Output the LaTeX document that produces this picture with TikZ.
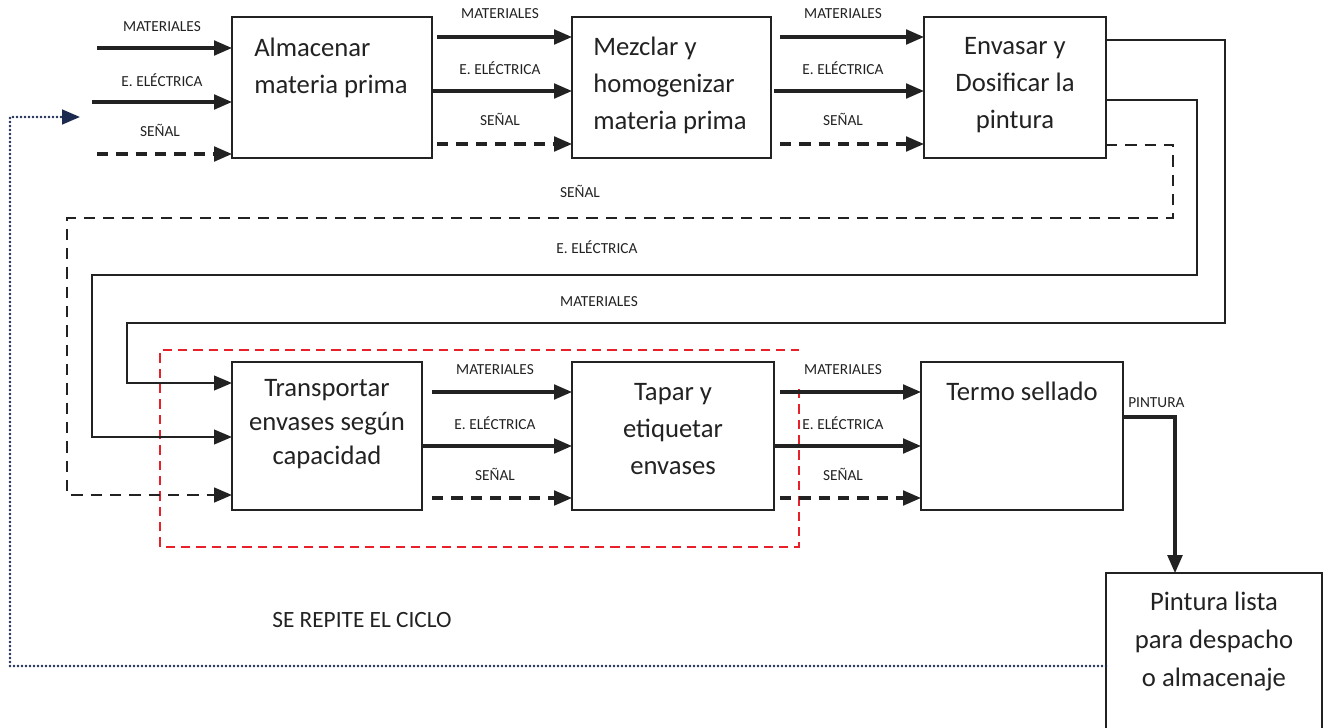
\documentclass[tikz,border=0pt]{standalone}
\usepackage{fontspec}
\setmainfont{Carlito}
\usetikzlibrary{arrows.meta,calc}
\definecolor{ink}{HTML}{222222}
\definecolor{cyclecol}{HTML}{1B2A4E}
\definecolor{groupred}{HTML}{E8202A}
\tikzset{
  proc/.style={draw=ink, line width=1.7pt, rectangle, inner sep=0pt, outer sep=0pt},
  boxtext/.style={text=ink, inner sep=0pt, font=\fontsize{20}{27.75}\selectfont},
  flowlabel/.style={text=ink, inner sep=0pt, font=\fontsize{11.5}{13}\selectfont},
  flow/.style={draw=ink, line width=2.4pt, -{Triangle[length=13.5pt,width=11pt]}},
  signal/.style={flow, dash pattern=on 8.5pt off 6pt},
  route/.style={draw=ink, line width=1.6pt, -{Triangle[length=13.5pt,width=11pt]}},
  routesig/.style={route, line width=2pt, dash pattern=on 8.5pt off 6pt},
  cycleline/.style={draw=cyclecol, line width=2pt, line cap=round, dash pattern=on 0pt off 3pt,
    -{Triangle[length=13.5pt,width=11pt,line cap=butt]}},
  groupframe/.style={draw=groupred, line width=1.8pt, dash pattern=on 7pt off 4.5pt}
}
\begin{document}
\begin{tikzpicture}[x=0.75pt,y=-0.75pt]
\useasboundingbox (0,0) rectangle (1329,728);

% process boxes
\node[proc, minimum width=150pt,   minimum height=105.75pt] (A) at (332,87.5) {};
\node[proc, minimum width=149.25pt, minimum height=105.75pt] (B) at (671.5,87.5) {};
\node[proc, minimum width=136.5pt, minimum height=105.75pt] (C) at (1015,87.5) {};
\node[proc, minimum width=142.5pt, minimum height=111pt] (D) at (327,436) {};
\node[proc, minimum width=151.5pt, minimum height=111pt] (E) at (673,436) {};
\node[proc, minimum width=151.5pt, minimum height=111pt] (F) at (1022,436) {};
\node[proc, minimum width=162pt,   minimum height=119pt] (G) at (1214,652.5) {};

% box captions
\node[boxtext, anchor=west, align=left] (tA) at (254,67.5) {Almacenar\\materia prima};
\node[boxtext, anchor=west, align=left] (tB) at (593,85) {Mezclar y\\homogenizar\\materia prima};
\node[boxtext, align=center] (tC) at (1015,85) {Envasar y\\Dosificar la\\pintura};
\node[boxtext, align=center, font=\fontsize{20}{25.5}\selectfont] (tD) at (327,424.5) {Transportar\\envases según\\capacidad};
\node[boxtext, align=center] (tE) at (673,429) {Tapar y\\etiquetar\\envases};
\node[boxtext] (tF) at (1022,391) {Termo sellado};
\node[boxtext, align=center, font=\fontsize{20}{28.5}\selectfont] (tG) at (1214,642) {Pintura lista\\para despacho\\o almacenaje};

% red frame around the transport / capping stages
\draw[groupframe] (799,389) -- (799,547) -- (160,547) -- (160,350) -- (799,350);

% inputs of the first stage
\coordinate (inM) at (97,48);
\coordinate (inE) at (92,102);
\coordinate (inS) at (97,154);
\draw[flow] (inM) -- (A.west |- inM);
\draw[flow] (inE) -- (A.west |- inE);
\draw[signal] (inS) -- (A.west |- inS);
\node[flowlabel] (lA1) at (162,27) {MATERIALES};
\node[flowlabel] (lA2) at (162,80) {E. ELÉCTRICA};
\node[flowlabel] (lA3) at (160,130) {SEÑAL};

% A -> B
\coordinate (rowM) at (0,37);
\coordinate (rowE) at (0,91);
\coordinate (rowS) at (0,144);
\draw[flow] ($(A.east |- rowM)+(5,0)$) -- (B.west |- rowM);
\draw[flow] (A.east |- rowE) -- (B.west |- rowE);
\draw[signal] ($(A.east |- rowS)+(5,0)$) -- (B.west |- rowS);
\node[flowlabel] (lB1) at (500,14) {MATERIALES};
\node[flowlabel] (lB2) at (500,68) {E. ELÉCTRICA};
\node[flowlabel] (lB3) at (500,119) {SEÑAL};

% B -> C
\draw[flow] ($(B.east |- rowM)+(9,0)$) -- (C.west |- rowM);
\draw[flow] ($(B.east |- rowE)+(3,0)$) -- (C.west |- rowE);
\draw[signal] ($(B.east |- rowS)+(9,0)$) -- (C.west |- rowS);
\node[flowlabel] (lC1) at (843,14) {MATERIALES};
\node[flowlabel] (lC2) at (843,68) {E. ELÉCTRICA};
\node[flowlabel] (lC3) at (843,119) {SEÑAL};

% return lines from C to D
\coordinate (cM1) at (1225,323);
\coordinate (cM2) at (127,383);
\coordinate (cE1) at (1197,275);
\coordinate (cE2) at (92,437);
\coordinate (cS1) at (1173,218);
\coordinate (cS2) at (67,495);
\draw[route] (C.east |- 0,40) -| (cM1) -| (cM2) -- (D.west |- cM2);
\draw[route] (C.east |- 0,100) -| (cE1) -| (cE2) -- (D.west |- cE2);
\draw[routesig] (C.east |- 0,145) -| (cS1) -| (cS2) -- (D.west |- cS2);
\node[flowlabel] (lR1) at (580,191) {SEÑAL};
\node[flowlabel] (lR2) at (597,247) {E. ELÉCTRICA};
\node[flowlabel] (lR3) at (599,302) {MATERIALES};

% D -> E
\coordinate (rowM2) at (0,392);
\coordinate (rowE2) at (0,446);
\coordinate (rowS2) at (0,498);
\draw[flow] ($(D.east |- rowM2)+(10,0)$) -- (E.west |- rowM2);
\draw[flow] (D.east |- rowE2) -- (E.west |- rowE2);
\draw[signal] ($(D.east |- rowS2)+(10,0)$) -- (E.west |- rowS2);
\node[flowlabel] (lE1) at (495,370) {MATERIALES};
\node[flowlabel] (lE2) at (495,423) {E. ELÉCTRICA};
\node[flowlabel] (lE3) at (495,474) {SEÑAL};

% E -> F
\draw[flow] ($(E.east |- rowM2)+(6,0)$) -- (F.west |- rowM2);
\draw[flow] (E.east |- rowE2) -- (F.west |- rowE2);
\draw[signal] ($(E.east |- rowS2)+(6,0)$) -- (F.west |- rowS2);
\node[flowlabel] (lF1) at (843,370) {MATERIALES};
\node[flowlabel] (lF2) at (843,423) {E. ELÉCTRICA};
\node[flowlabel] (lF3) at (843,474) {SEÑAL};

% finished product
\coordinate (pk) at (1175,417);
\draw[flow] (F.east |- pk) -- (pk) -- (pk |- G.north);
\node[flowlabel, anchor=west] (lP) at (1128,403) {PINTURA};

% cycle repeats
\coordinate (cyc1) at (10,666);
\coordinate (cyc2) at (80,117);
\draw[cycleline] (G.west |- cyc1) -- (cyc1) |- (cyc2);
\node[text=ink, inner sep=0pt, font=\fontsize{17.5}{20}\selectfont] (lcyc) at (362,620) {SE REPITE EL CICLO};
\end{tikzpicture}
\end{document}
